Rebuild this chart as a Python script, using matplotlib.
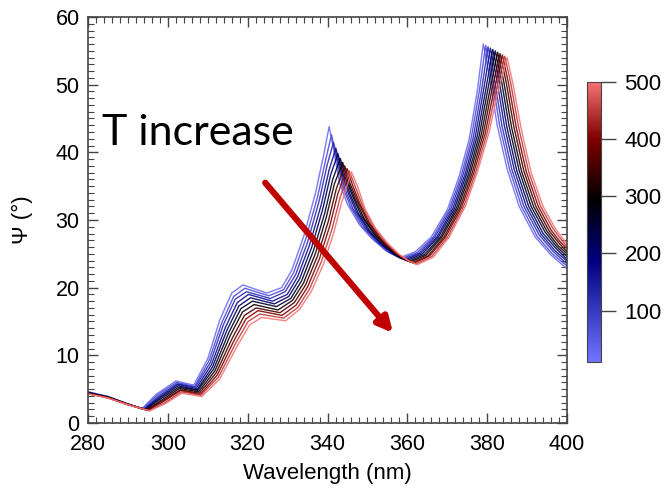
import numpy as np
import matplotlib
matplotlib.use('Agg')
import matplotlib.pyplot as plt
from matplotlib.colors import LinearSegmentedColormap, Normalize

plt.rcParams['font.family'] = ['Liberation Sans', 'DejaVu Sans']

# temperature of each curve (colour scale)
temps = [20, 68, 116, 164, 212, 260, 308, 356, 404, 452, 500]

# wavelength (nm) of feature points, one row per feature, one column per curve
wl_rows = [
    [280, 280, 280, 280, 280, 280, 280, 280, 280, 280, 280],
    [285, 285, 285, 285, 285, 285, 285, 285, 285, 285, 285],
    [289.5, 289.5, 289.6, 289.7, 289.7, 289.8, 289.8, 289.9, 289.9, 290, 290],
    [293.5, 293.7, 293.9, 294.1, 294.3, 294.5, 294.7, 294.9, 295.1, 295.3, 295.5],
    [297, 297.3, 297.5, 297.8, 298, 298.3, 298.5, 298.8, 299, 299.3, 299.5],
    [302, 302.2, 302.3, 302.5, 302.6, 302.8, 302.9, 303.1, 303.2, 303.4, 303.5],
    [306.5, 306.7, 306.9, 307.1, 307.3, 307.5, 307.7, 307.9, 308.1, 308.3, 308.5],
    [310, 310.3, 310.6, 310.9, 311.2, 311.5, 311.8, 312.1, 312.4, 312.7, 313],
    [313, 313.5, 313.9, 314.4, 314.8, 315.3, 315.7, 316.2, 316.6, 317.1, 317.5],
    [316, 316.5, 316.9, 317.4, 317.8, 318.3, 318.7, 319.2, 319.6, 320.1, 320.5],
    [318.8, 319.3, 319.7, 320.2, 320.7, 321.2, 321.6, 322.1, 322.6, 323.0, 323.5],
    [324.8, 325.3, 325.7, 326.2, 326.7, 327.2, 327.6, 328.1, 328.6, 329.0, 329.5],
    [328.5, 329, 329.4, 329.9, 330.3, 330.8, 331.2, 331.7, 332.1, 332.6, 333],
    [331, 331.5, 332, 332.5, 333, 333.5, 334, 334.5, 335, 335.5, 336],
    [334, 334.5, 335, 335.5, 336, 336.5, 337, 337.5, 338, 338.5, 339],
    [337, 337.5, 337.9, 338.4, 338.8, 339.3, 339.7, 340.2, 340.6, 341.1, 341.5],
    [339, 339.5, 339.9, 340.4, 340.8, 341.3, 341.7, 342.2, 342.6, 343.1, 343.5],
    [340.4, 341.0, 341.5, 342.1, 342.6, 343.2, 343.8, 344.3, 344.9, 345.4, 346.0],
    [341.5, 342.1, 342.7, 343.3, 343.9, 344.5, 345.1, 345.7, 346.3, 346.9, 347.5],
    [343, 343.7, 344.3, 345, 345.6, 346.3, 346.9, 347.6, 348.2, 348.9, 349.5],
    [345, 345.7, 346.4, 347.1, 347.8, 348.5, 349.2, 349.9, 350.6, 351.3, 352],
    [348, 348.7, 349.4, 350.1, 350.8, 351.5, 352.2, 352.9, 353.6, 354.3, 355],
    [351, 351.7, 352.4, 353.1, 353.8, 354.5, 355.2, 355.9, 356.6, 357.3, 358],
    [354.5, 355.1, 355.7, 356.3, 356.9, 357.5, 358.1, 358.7, 359.3, 359.9, 360.5],
    [358, 358.5, 358.9, 359.4, 359.8, 360.3, 360.7, 361.2, 361.6, 362.1, 362.5],
    [362, 362.5, 362.9, 363.4, 363.8, 364.3, 364.7, 365.2, 365.6, 366.1, 366.5],
    [366, 366.5, 366.9, 367.4, 367.8, 368.3, 368.7, 369.2, 369.6, 370.1, 370.5],
    [370, 370.5, 370.9, 371.4, 371.8, 372.3, 372.7, 373.2, 373.6, 374.1, 374.5],
    [373, 373.5, 373.9, 374.4, 374.8, 375.3, 375.7, 376.2, 376.6, 377.1, 377.5],
    [375.5, 376, 376.5, 377, 377.5, 378, 378.5, 379, 379.5, 380, 380.5],
    [377.5, 378, 378.5, 379, 379.5, 380, 380.5, 381, 381.5, 382, 382.5],
    [379, 379.6, 380.2, 380.8, 381.4, 382, 382.6, 383.2, 383.8, 384.4, 385],
    [380.5, 381.1, 381.7, 382.3, 382.9, 383.5, 384.1, 384.7, 385.3, 385.9, 386.5],
    [382.5, 383.1, 383.7, 384.3, 384.9, 385.5, 386.1, 386.7, 387.3, 387.9, 388.5],
    [385, 385.6, 386.2, 386.8, 387.4, 388, 388.6, 389.2, 389.8, 390.4, 391],
    [388, 388.6, 389.2, 389.8, 390.4, 391, 391.6, 392.2, 392.8, 393.4, 394],
    [392, 392.5, 393, 393.5, 394, 394.5, 395, 395.5, 396, 396.5, 397],
    [396, 396.3, 396.6, 396.9, 397.2, 397.5, 397.8, 398.1, 398.4, 398.7, 399],
    [400, 400, 400, 400, 400, 400, 400, 400, 400, 400, 400],
]

# Psi (deg) at the same feature points
psi_rows = [
    [4.6, 4.6, 4.5, 4.5, 4.5, 4.5, 4.4, 4.4, 4.4, 4.3, 4.3],
    [3.9, 3.9, 3.9, 3.8, 3.8, 3.8, 3.8, 3.8, 3.7, 3.7, 3.7],
    [2.9, 2.9, 2.9, 2.8, 2.8, 2.8, 2.8, 2.8, 2.7, 2.7, 2.7],
    [2.1, 2.1, 2.0, 2.0, 2.0, 2.0, 1.9, 1.9, 1.9, 1.8, 1.8],
    [4.2, 4.1, 3.9, 3.8, 3.7, 3.6, 3.4, 3.3, 3.2, 3.0, 2.9],
    [6.2, 6.0, 5.8, 5.7, 5.5, 5.3, 5.1, 4.9, 4.8, 4.6, 4.4],
    [5.6, 5.4, 5.3, 5.1, 4.9, 4.8, 4.6, 4.4, 4.2, 4.1, 3.9],
    [9.5, 9.2, 8.9, 8.6, 8.3, 8.0, 7.7, 7.4, 7.1, 6.8, 6.5],
    [15.2, 14.8, 14.5, 14.1, 13.7, 13.4, 13.0, 12.6, 12.2, 11.9, 11.5],
    [19.2, 18.7, 18.3, 17.8, 17.3, 16.9, 16.4, 15.9, 15.4, 15.0, 14.5],
    [20.4, 19.9, 19.4, 19.0, 18.5, 18.0, 17.5, 17.0, 16.6, 16.1, 15.6],
    [19.2, 18.8, 18.4, 18.0, 17.6, 17.2, 16.7, 16.3, 15.9, 15.5, 15.1],
    [20.0, 19.7, 19.4, 19.0, 18.7, 18.4, 18.1, 17.8, 17.4, 17.1, 16.8],
    [22.5, 22.2, 21.9, 21.6, 21.3, 21.0, 20.7, 20.4, 20.1, 19.8, 19.5],
    [27.5, 27.1, 26.7, 26.3, 25.9, 25.5, 25.1, 24.7, 24.3, 23.9, 23.5],
    [34.0, 33.4, 32.8, 32.2, 31.6, 31.0, 30.4, 29.8, 29.2, 28.6, 28.0],
    [39.5, 38.8, 38.1, 37.4, 36.7, 36.0, 35.3, 34.6, 33.9, 33.2, 32.5],
    [43.8, 42.6, 41.5, 40.6, 39.8, 39.1, 38.5, 38.0, 37.6, 37.3, 37.1],
    [40.5, 39.4, 38.4, 37.5, 36.8, 36.2, 35.7, 35.3, 35.1, 35.0, 35.0],
    [35.5, 35.1, 34.7, 34.3, 33.9, 33.5, 33.1, 32.7, 32.3, 31.9, 31.5],
    [32.3, 32.0, 31.6, 31.3, 30.9, 30.6, 30.2, 29.9, 29.5, 29.2, 28.8],
    [29.3, 29.0, 28.8, 28.5, 28.2, 28.0, 27.7, 27.4, 27.1, 26.9, 26.6],
    [27.3, 27.1, 26.8, 26.6, 26.3, 26.1, 25.9, 25.6, 25.4, 25.1, 24.9],
    [25.5, 25.3, 25.2, 25.0, 24.9, 24.7, 24.5, 24.4, 24.2, 24.1, 23.9],
    [24.4, 24.3, 24.2, 24.1, 24.0, 23.9, 23.8, 23.7, 23.6, 23.5, 23.4],
    [25.3, 25.2, 25.1, 25.1, 25.0, 24.9, 24.8, 24.7, 24.7, 24.6, 24.5],
    [27.5, 27.5, 27.5, 27.5, 27.5, 27.5, 27.5, 27.5, 27.5, 27.5, 27.5],
    [31.5, 31.6, 31.6, 31.7, 31.7, 31.8, 31.8, 31.9, 31.9, 32.0, 32.0],
    [36.5, 36.6, 36.6, 36.7, 36.7, 36.8, 36.8, 36.9, 36.9, 37.0, 37.0],
    [42.0, 42.1, 42.2, 42.3, 42.4, 42.5, 42.6, 42.7, 42.8, 42.9, 43.0],
    [49.0, 49.0, 48.9, 48.9, 48.8, 48.8, 48.7, 48.7, 48.6, 48.6, 48.5],
    [56.0, 55.8, 55.6, 55.4, 55.2, 55.0, 54.8, 54.6, 54.4, 54.2, 54.0],
    [51.5, 51.4, 51.2, 51.1, 50.9, 50.8, 50.6, 50.5, 50.3, 50.2, 50.0],
    [44.0, 44.0, 43.9, 43.9, 43.8, 43.8, 43.7, 43.7, 43.6, 43.6, 43.5],
    [37.5, 37.5, 37.4, 37.4, 37.3, 37.3, 37.2, 37.2, 37.1, 37.1, 37.0],
    [32.0, 32.0, 32.0, 32.0, 32.0, 32.0, 32.0, 32.0, 32.0, 32.0, 32.0],
    [27.5, 27.6, 27.8, 27.9, 28.0, 28.2, 28.3, 28.4, 28.5, 28.7, 28.8],
    [24.8, 25.0, 25.3, 25.5, 25.8, 26.0, 26.2, 26.5, 26.7, 27.0, 27.2],
    [22.8, 23.2, 23.5, 23.9, 24.2, 24.6, 25.0, 25.3, 25.7, 26.0, 26.4],
]

wl = np.array(wl_rows).T
psi = np.array(psi_rows).T

# blue -> navy -> black -> dark red -> light red
cmap = LinearSegmentedColormap.from_list('bkr', [
    (0.0, (0.45, 0.45, 1.0)),
    (0.36, (0.0, 0.0, 0.5)),
    (0.58, (0.0, 0.0, 0.0)),
    (0.80, (0.5, 0.0, 0.0)),
    (1.0, (0.97, 0.45, 0.45)),
])
norm = Normalize(vmin=10, vmax=500)

fig = plt.figure(figsize=(6.64, 4.95), dpi=100)
ax = fig.add_axes([0.1325, 0.1455, 0.7215, 0.8202])

for k in range(len(temps)):
    ax.plot(wl[k], psi[k], color=cmap(norm(temps[k])), lw=1.0, alpha=0.9,
            solid_joinstyle='round')

ax.set_xlim(280, 400)
ax.set_ylim(0, 60)
ax.set_xticks([280, 300, 320, 340, 360, 380, 400])
ax.set_yticks([0, 10, 20, 30, 40, 50, 60])
ax.set_xticks(np.arange(280, 401, 2), minor=True)
ax.set_yticks(np.arange(0, 61, 1), minor=True)
ax.tick_params(which='both', direction='in', top=True, right=True,
               color='#444444', labelsize=15.5)
ax.tick_params(axis='x', pad=8)
ax.tick_params(axis='y', pad=6)
ax.tick_params(which='major', length=7, width=1.0)
ax.tick_params(which='minor', length=4, width=0.8)
for sp in ax.spines.values():
    sp.set_color('#444444')
    sp.set_linewidth(1.2)

ax.set_xlabel('Wavelength (nm)', fontsize=16, labelpad=6)
ax.set_ylabel('Ψ (°)', fontsize=16, labelpad=16)

ax.text(283.5, 41.1, 'T increase', fontsize=31, family=['Lato', 'DejaVu Sans'],
        va='baseline', ha='left')
ax.annotate('', xy=(356.4, 13.3), xytext=(324.4, 35.5),
            arrowprops=dict(arrowstyle='-|>', color='#c00000', lw=4.5,
                            mutation_scale=22, shrinkA=0, shrinkB=0))

cax = fig.add_axes([0.884, 0.2687, 0.021, 0.5657])
sm = plt.cm.ScalarMappable(norm=norm, cmap=cmap)
cb = fig.colorbar(sm, cax=cax)
cb.set_ticks([100, 200, 300, 400, 500])
cb.outline.set_edgecolor('#444444')
cb.outline.set_linewidth(0.8)
cax.tick_params(length=11, width=1.0, color='#444444', labelsize=16, pad=6)

fig.savefig('out.png', dpi=100)
